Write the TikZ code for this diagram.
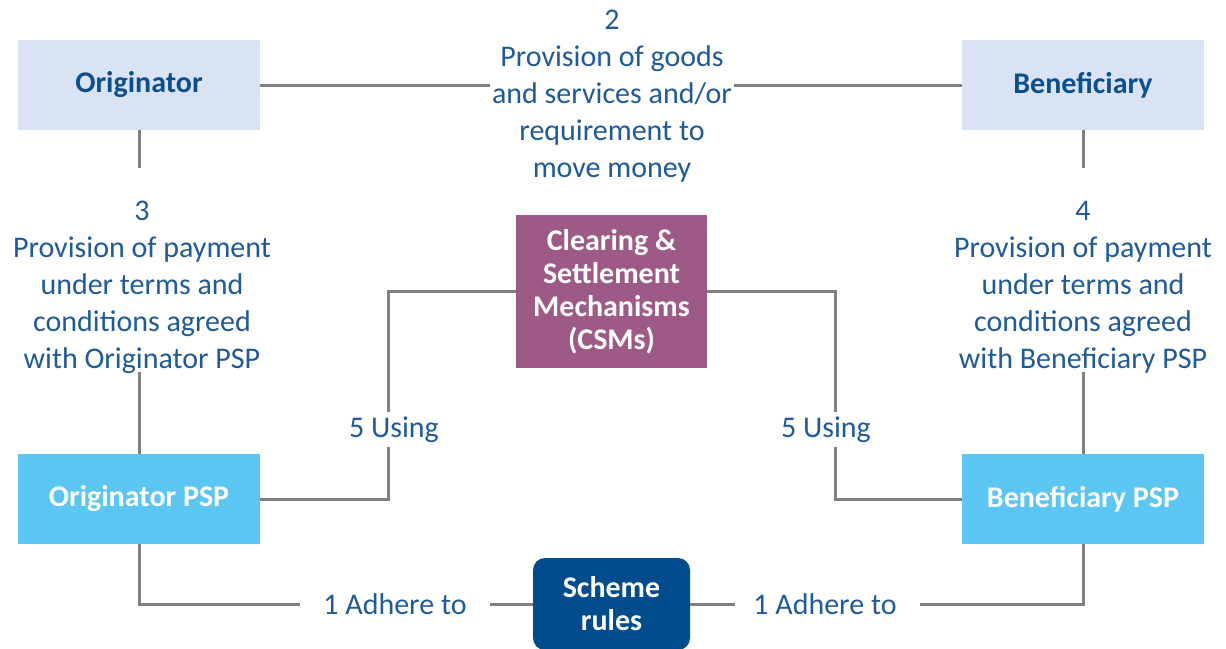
\documentclass[tikz,border=0pt]{standalone}
\usepackage{fontspec}
\setmainfont{Carlito}
\usetikzlibrary{calc}
\definecolor{partyfill}{HTML}{DAE3F3}
\definecolor{partytext}{HTML}{0B4F8E}
\definecolor{pspfill}{HTML}{5BC6F2}
\definecolor{csmfill}{HTML}{9E5A86}
\definecolor{schemefill}{HTML}{004C8C}
\definecolor{notetext}{HTML}{1F5A9A}
\definecolor{linkgray}{HTML}{808080}

\begin{document}
\begin{tikzpicture}[x=1pt,y=-1pt,
  party/.style={fill=partyfill,text=partytext,font=\bfseries\fontsize{30}{33}\selectfont,
    minimum width=242pt,minimum height=90pt,inner sep=0pt,align=center},
  psp/.style={party,fill=pspfill,text=white},
  csmbox/.style={party,fill=csmfill,text=white,minimum width=191pt,minimum height=153pt},
  schemebox/.style={party,fill=schemefill,text=white,minimum width=157pt,minimum height=92pt,rounded corners=12pt},
  note/.style={text=notetext,align=center,font=\fontsize{30}{37}\selectfont,inner sep=2pt},
  link/.style={draw=linkgray,line width=3pt}]
\useasboundingbox (0,0) rectangle (1226,648);

% parties and PSPs
\node[party] (orig) at (139,85) {Originator};
\node[party] (benef) at (1083,85) {Beneficiary};
\node[psp] (origpsp) at (139,499) {Originator PSP};
\node[psp] (benefpsp) at (1083,499) {Beneficiary PSP};
\node[csmbox] (csm) at (611.5,291.5) {Clearing \&\\Settlement\\Mechanisms\\(CSMs)};
\node[schemebox] (scheme) at (611.5,604) {Scheme\\rules};

% relation texts
\node[note] (prov) at (612,96) {2\\Provision of goods\\and services and/or\\requirement to\\move money};
\node[note] (payo) at (142,287) {3\\Provision of payment\\under terms and\\conditions agreed\\with Originator PSP};
\node[note] (payb) at (1083,287) {4\\Provision of payment\\under terms and\\conditions agreed\\with Beneficiary PSP};
\node[note] (usingo) at (394,430) {5 Using};
\node[note] (usingb) at (826,430) {5 Using};
\node[note] (adho) at (395,604) {1 Adhere to};
\node[note] (adhb) at (825,604) {1 Adhere to};

% free ends of the connectors
\coordinate (payotop) at (139,168);
\coordinate (payobot) at (139,372);
\coordinate (paybtop) at (1083,168);
\coordinate (paybbot) at (1083,372);
\coordinate (usingotop) at (388,412);
\coordinate (usingobot) at (388,447);
\coordinate (usingbtop) at (835,412);
\coordinate (usingbbot) at (835,447);
\coordinate (adhol) at (300,604);
\coordinate (adhor) at (490,604);
\coordinate (adhbl) at (735,604);
\coordinate (adhbr) at (920,604);

% connectors
\draw[link] (orig) -- (prov.west |- orig);
\draw[link] (prov.east |- benef) -- (benef);
\draw[link] (orig) -- (payotop);
\draw[link] (payobot) -- (origpsp);
\draw[link] (benef) -- (paybtop);
\draw[link] (paybbot) -- (benefpsp);
\draw[link] (origpsp.east) -| (usingobot);
\draw[link] (usingotop) |- (csm.west);
\draw[link] (csm.east) -| (usingbtop);
\draw[link] (usingbbot) |- (benefpsp.west);
\draw[link] (origpsp) |- (adhol);
\draw[link] (adhor) -- (scheme);
\draw[link] (scheme) -- (adhbl);
\draw[link] (adhbr) -| (benefpsp);
\end{tikzpicture}
\end{document}
